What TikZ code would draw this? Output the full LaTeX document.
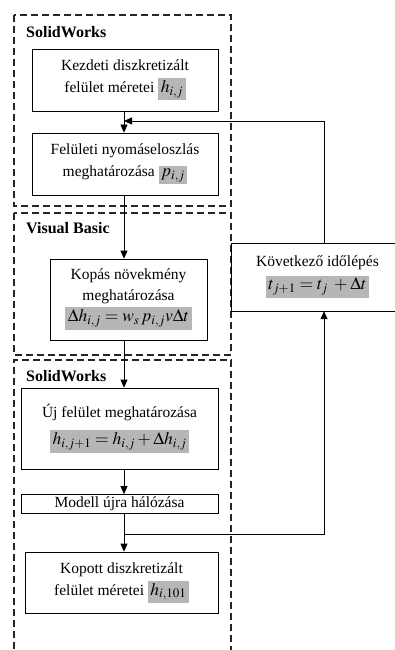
\documentclass[tikz,border=0pt]{standalone}
\usepackage{mathptmx}
\usepackage[no-math]{fontspec}
\setmainfont{Liberation Serif}
\usepackage{xcolor}
\usetikzlibrary{arrows.meta}

\definecolor{hlgray}{RGB}{182,182,182}
% gray background behind the formulas
\newcommand{\hlmath}[1]{{\setlength{\fboxsep}{2.5pt}\fontsize{17.5}{20}\selectfont\colorbox{hlgray}{$#1$}}}

\begin{document}
\begin{tikzpicture}[x=1pt, y=-1pt,
    proc/.style={draw, line width=0.8pt, align=center, inner sep=2pt,
                 font=\fontsize{15.5}{23}\selectfont},
    group/.style={line width=1.6pt, dash pattern=on 7pt off 4pt, black!85},
    grouplabel/.style={anchor=west, inner sep=0pt, font=\fontsize{16}{18}\selectfont\bfseries},
    flow/.style={-{Triangle[length=8pt,width=7pt]}, line width=0.8pt}]
    \useasboundingbox (0,0) rectangle (394,650);

    % Dashed program groups (the last one runs off the bottom)
    \draw[group] (14,15) rectangle (231,206);
    \draw[group] (14,213) rectangle (231,355);
    \draw[group] (14,660) -- (14,360) -- (231,360) -- (231,660);
    \node[grouplabel] (sw1) at (26,32) {SolidWorks};
    \node[grouplabel] (vb) at (26,228) {Visual Basic};
    \node[grouplabel] (sw2) at (26,376) {SolidWorks};

    % Steps of the main loop
    \node[proc, minimum width=186pt, minimum height=62pt] (init) at (125,80)
        {Kezdeti diszkretizált\\[-1pt] felület méretei \hlmath{h_{i,j}}};
    \node[proc, minimum width=186pt, minimum height=62pt] (press) at (125,164)
        {Felületi nyomáseloszlás\\[-1pt] meghatározása \hlmath{p_{i,j}}};
    \node[proc, minimum width=157pt, minimum height=81pt] (wear) at (128.5,299.5)
        {Kopás növekmény\\[-2pt] meghatározása\\[-2pt] \hlmath{\Delta h_{i,j} = w_s\, p_{i,j} v\Delta t}};
    \node[proc, minimum width=197pt, minimum height=81pt] (surf) at (119.5,428.5)
        {Új felület meghatározása\\[4pt] \hlmath{h_{i,j+1} = h_{i,j} + \Delta h_{i,j}}};
    \node[proc, minimum width=197pt, minimum height=19pt, inner sep=0pt] (mesh) at (119.5,504)
        {Modell újra hálózása};
    \node[proc, minimum width=193pt, minimum height=61pt] (final) at (121.5,582.5)
        {Kopott diszkretizált\\[-1pt] felület méretei \hlmath{h_{i,101}}};

    % Time step box, open to the right edge
    \draw[line width=0.8pt] (400,243) -- (231,243) -- (231,311) -- (400,311);
    \node[align=center, minimum width=173pt, minimum height=68pt,
          font=\fontsize{15.5}{22}\selectfont] (next) at (317.5,277)
        {Következő időlépés\\[1pt] \hlmath{t_{j+1} = t_j\; + \Delta t}};

    % Spine of the flow and the return loop
    \coordinate (spine) at (124,0);
    \coordinate (back) at (124,121);
    \coordinate (split) at (124,534);
    \coordinate (loop) at (324,534);

    \draw[flow] (init.south -| spine) -- (press.north -| spine);
    \draw[flow] (press.south -| spine) -- (wear.north -| spine);
    \draw[flow] (wear.south -| spine) -- (surf.north -| spine);
    \draw[flow] (surf.south -| spine) -- (mesh.north -| spine);
    \draw[flow] (mesh.south -| spine) -- (final.north -| spine);
    \draw[flow] (split) -- (loop) -- (loop |- next.south);
    \draw[flow] (loop |- next.north) |- (back);
\end{tikzpicture}
\end{document}
